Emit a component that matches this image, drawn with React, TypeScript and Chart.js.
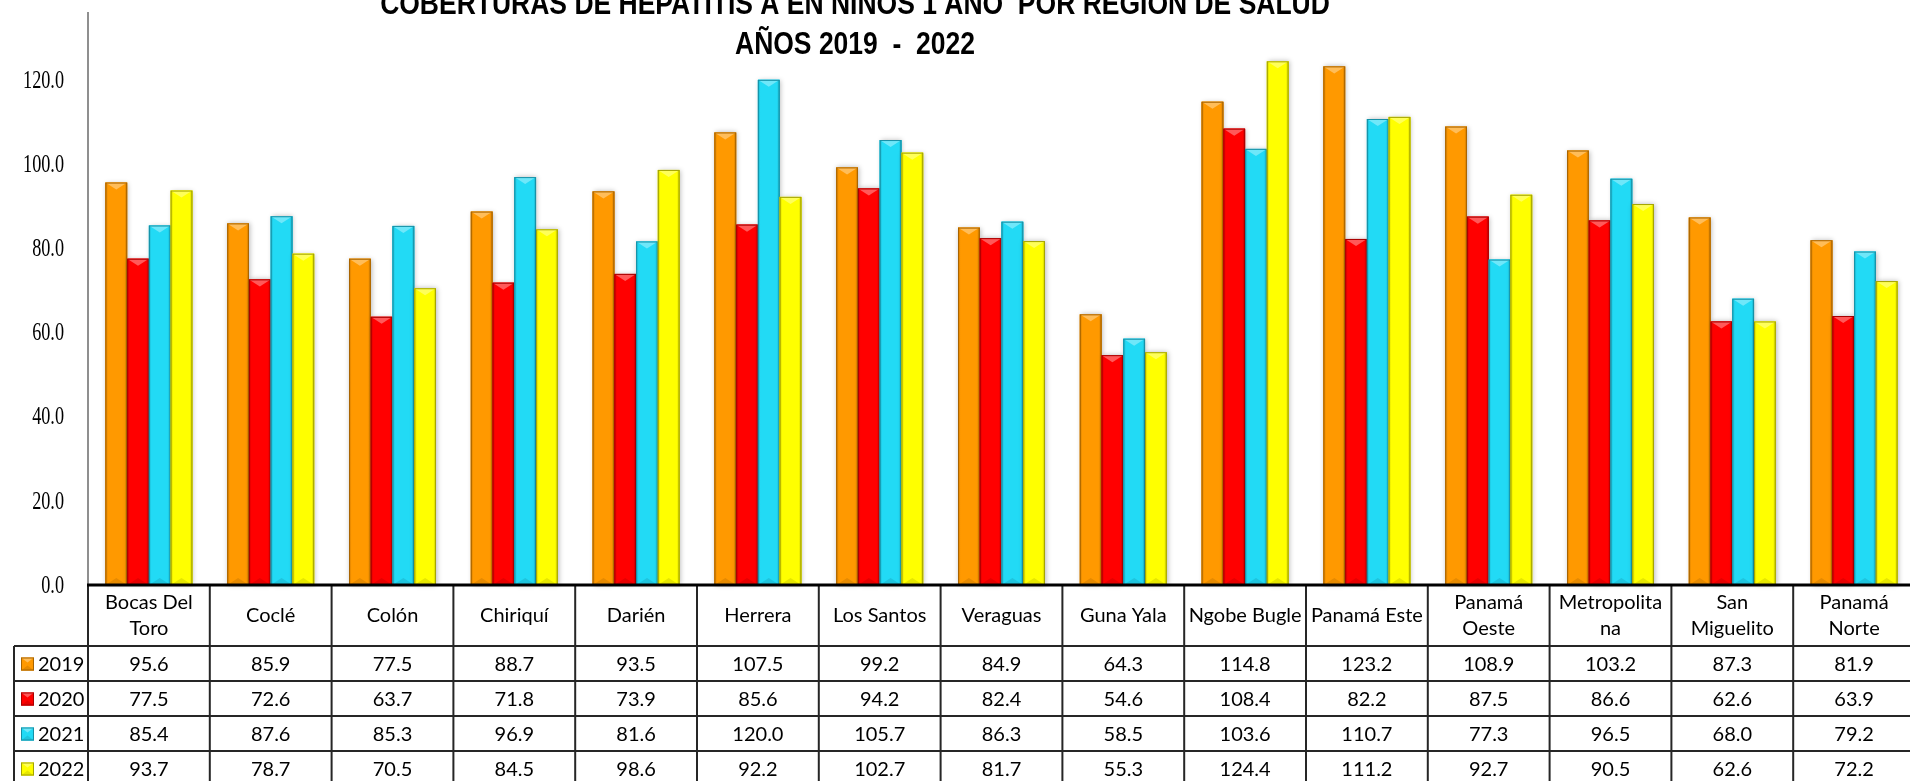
import { useEffect, useRef } from 'react';
import { Chart, registerables } from 'chart.js';

Chart.register(...registerables);

const TITLE_LINES = ['COBERTURAS DE HEPATITIS A EN NIÑOS 1 AÑO  POR REGION DE SALUD', 'AÑOS 2019  -  2022'];
const categories: string[][] = [
  ['Bocas Del', 'Toro'], ['Coclé'], ['Colón'], ['Chiriquí'], ['Darién'], ['Herrera'], ['Los Santos'],
  ['Veraguas'], ['Guna Yala'], ['Ngobe Bugle'], ['Panamá Este'], ['Panamá', 'Oeste'], ['Metropolita', 'na'],
  ['San', 'Miguelito'], ['Panamá', 'Norte'],
];
const seriesNames = ['2019', '2020', '2021', '2022'];
const values2019 = [95.6, 85.9, 77.5, 88.7, 93.5, 107.5, 99.2, 84.9, 64.3, 114.8, 123.2, 108.9, 103.2, 87.3, 81.9];
const values2020 = [77.5, 72.6, 63.7, 71.8, 73.9, 85.6, 94.2, 82.4, 54.6, 108.4, 82.2, 87.5, 86.6, 62.6, 63.9];
const values2021 = [85.4, 87.6, 85.3, 96.9, 81.6, 120.0, 105.7, 86.3, 58.5, 103.6, 110.7, 77.3, 96.5, 68.0, 79.2];
const values2022 = [93.7, 78.7, 70.5, 84.5, 98.6, 92.2, 102.7, 81.7, 55.3, 124.4, 111.2, 92.7, 90.5, 62.6, 72.2];
const seriesValues = [values2019, values2020, values2021, values2022];
const yTicks = [0, 20, 40, 60, 80, 100, 120];
const Y_MAX = 136;

const colors = ['#FF9900', '#FF0000', '#22DAF5', '#FFFF00'];
const edgeColors = ['#A86400', '#A80000', '#1690A6', '#A4A400'];

function mix(hex: string, target: number, t: number) {
  const n = parseInt(hex.slice(1), 16);
  const r = (n >> 16) & 255, g = (n >> 8) & 255, b = n & 255;
  const m = (c: number) => Math.round(c + (target - c) * t);
  return `rgb(${m(r)},${m(g)},${m(b)})`;
}

function drawBevel(ctx: CanvasRenderingContext2D, left: number, top: number, w: number, h: number, color: string, edge: string, tri: number) {
  const g = ctx.createLinearGradient(left, 0, left + w, 0);
  g.addColorStop(0, mix(color, 0, 0.18));
  g.addColorStop(0.12, color);
  g.addColorStop(0.88, color);
  g.addColorStop(1, mix(color, 0, 0.22));
  ctx.fillStyle = g;
  ctx.fillRect(left, top, w, h);
  const th = Math.min(tri, h / 2);
  ctx.beginPath();
  ctx.moveTo(left, top);
  ctx.lineTo(left + w, top);
  ctx.lineTo(left + w / 2, top + th);
  ctx.closePath();
  ctx.fillStyle = mix(color, 255, 0.35);
  ctx.fill();
  ctx.beginPath();
  ctx.moveTo(left, top + h);
  ctx.lineTo(left + w, top + h);
  ctx.lineTo(left + w / 2, top + h - th);
  ctx.closePath();
  ctx.fillStyle = mix(color, 0, 0.1);
  ctx.fill();
  ctx.strokeStyle = edge;
  ctx.lineWidth = 1;
  ctx.strokeRect(left + 0.5, top + 0.5, w - 1, h - 1);
}

const bevelPlugin = {
  id: 'bevelBars',
  afterDatasetsDraw(chart: any) {
    const ctx = chart.ctx as CanvasRenderingContext2D;
    chart.data.datasets.forEach((ds: any, di: number) => {
      const meta = chart.getDatasetMeta(di);
      meta.data.forEach((el: any) => {
        const w = el.width;
        const left = el.x - w / 2;
        const top = Math.min(el.y, el.base);
        const h = Math.abs(el.base - el.y);
        ctx.save();
        ctx.shadowColor = 'rgba(0,0,0,0.28)';
        ctx.shadowBlur = 5;
        ctx.shadowOffsetX = 1;
        ctx.shadowOffsetY = 0;
        ctx.fillStyle = colors[di];
        ctx.fillRect(left, top, w, h);
        ctx.restore();
        ctx.save();
        drawBevel(ctx, left, top, w, h, colors[di], edgeColors[di], 7);
        ctx.restore();
      });
    });
  },
};

const yLabelPlugin = {
  id: 'yLabels',
  afterDraw(chart: any) {
    const ctx = chart.ctx as CanvasRenderingContext2D;
    const ys = chart.scales.y;
    ctx.save();
    ctx.fillStyle = '#000';
    ctx.font = '26px "Liberation Serif", "DejaVu Serif", serif';
    ctx.textAlign = 'right';
    ctx.textBaseline = 'middle';
    const rightX = chart.chartArea.left - 24;
    const sx = 0.7;
    ys.ticks.forEach((t: any) => {
      const y = ys.getPixelForValue(t.value);
      ctx.save();
      ctx.translate(rightX, y);
      ctx.scale(sx, 1);
      ctx.fillText(Number(t.value).toFixed(1), 0, 1);
      ctx.restore();
    });
    ctx.restore();
  },
};

const titlePlugin = {
  id: 'customTitle',
  afterDraw(chart: any) {
    const ctx = chart.ctx as CanvasRenderingContext2D;
    ctx.save();
    ctx.fillStyle = '#000';
    ctx.font = 'bold 32px "Liberation Sans", Arial, sans-serif';
    ctx.textAlign = 'center';
    ctx.textBaseline = 'alphabetic';
    const w2 = ctx.measureText(TITLE_LINES[1]).width;
    const sx = 240 / w2;
    const draw = (txt: string, y: number) => {
      ctx.save();
      ctx.translate(855, y);
      ctx.scale(sx, 1);
      ctx.fillText(txt, 0, 0);
      ctx.restore();
    };
    draw(TITLE_LINES[0], 14);
    draw(TITLE_LINES[1], 54);
    ctx.restore();
  },
};

const tablePlugin = {
  id: 'dataTable',
  afterDraw(chart: any) {
    const ctx = chart.ctx as CanvasRenderingContext2D;
    const area = chart.chartArea;
    const n = categories.length;
    const left = area.left;
    const right = area.right;
    const colW = (right - left) / n;
    const top = area.bottom;
    const headerH = 61;
    const rowH = 35;
    const legendLeft = 14;
    const bottom = top + headerH + rowH * seriesNames.length;
    ctx.save();
    ctx.strokeStyle = '#262626';
    ctx.lineWidth = 2;
    ctx.beginPath();
    for (let i = 0; i <= seriesNames.length; i++) {
      const y = top + headerH + i * rowH;
      ctx.moveTo(legendLeft, y);
      ctx.lineTo(right, y);
    }
    for (let k = 0; k <= n; k++) {
      const x = left + k * colW;
      ctx.moveTo(x, top);
      ctx.lineTo(x, bottom);
    }
    ctx.moveTo(legendLeft, top + headerH);
    ctx.lineTo(legendLeft, bottom);
    ctx.stroke();
    ctx.strokeStyle = '#000';
    ctx.lineWidth = 3;
    ctx.beginPath();
    ctx.moveTo(left - 1, top);
    ctx.lineTo(right, top);
    ctx.stroke();

    ctx.fillStyle = '#000';
    ctx.textAlign = 'center';
    ctx.textBaseline = 'middle';
    ctx.font = '20px Lato, "Open Sans", sans-serif';
    categories.forEach((lines, k) => {
      const cx = left + (k + 0.5) * colW;
      const cy = top + headerH / 2;
      const lh = 26;
      lines.forEach((ln, li) => {
        ctx.fillText(ln, cx, cy + (li - (lines.length - 1) / 2) * lh);
      });
    });
    seriesNames.forEach((name, si) => {
      const cy = top + headerH + si * rowH + rowH / 2;
      ctx.save();
      drawBevel(ctx, 21, cy - 6, 13, 13, colors[si], edgeColors[si], 5);
      ctx.restore();
      ctx.fillStyle = '#000';
      ctx.textAlign = 'left';
      ctx.fillText(name, 38, cy + 1);
      ctx.textAlign = 'center';
      seriesValues[si].forEach((v, k) => {
        const cx = left + (k + 0.5) * colW;
        ctx.fillText(v.toFixed(1), cx, cy + 1);
      });
    });
    ctx.restore();
  },
};

export default function App() {
  const ref = useRef<HTMLCanvasElement | null>(null);
  useEffect(() => {
    if (!ref.current) return;
    const chart = new Chart(ref.current, {
      type: 'bar',
      data: {
        labels: categories,
        datasets: seriesNames.map((name, i) => ({
          label: name,
          data: seriesValues[i],
          backgroundColor: colors[i],
          borderColor: edgeColors[i],
          borderWidth: 0,
          categoryPercentage: 0.714,
          barPercentage: 1.0,
        })),
      },
      options: {
        animation: false,
        responsive: false,
        devicePixelRatio: 1,
        layout: { padding: { top: 12.5, right: 1, bottom: 215, left: 0 } },
        plugins: {
          legend: { display: false },
          title: { display: false },
          tooltip: { enabled: false },
        },
        scales: {
          x: { display: false },
          y: {
            min: 0,
            max: Y_MAX,
            afterBuildTicks: (scale: any) => {
              scale.ticks = yTicks.map((v) => ({ value: v }));
            },
            afterFit: (scale: any) => {
              scale.width = 88;
              scale.paddingTop = 0;
              scale.paddingBottom = 0;
            },
            grid: { display: false, drawTicks: false },
            border: { display: true, color: '#8f8f8f', width: 2 },
            ticks: { display: false },
          },
        },
      },
      plugins: [bevelPlugin, tablePlugin, yLabelPlugin, titlePlugin],
    });
    return () => chart.destroy();
  }, []);
  return (
    <div style={{ position: 'fixed', left: 0, top: 0, width: 1910, height: 781, overflow: 'hidden', background: '#fff' }}>
      <canvas ref={ref} width={1916} height={800} style={{ display: 'block', width: 1916, height: 800 }} />
    </div>
  );
}
